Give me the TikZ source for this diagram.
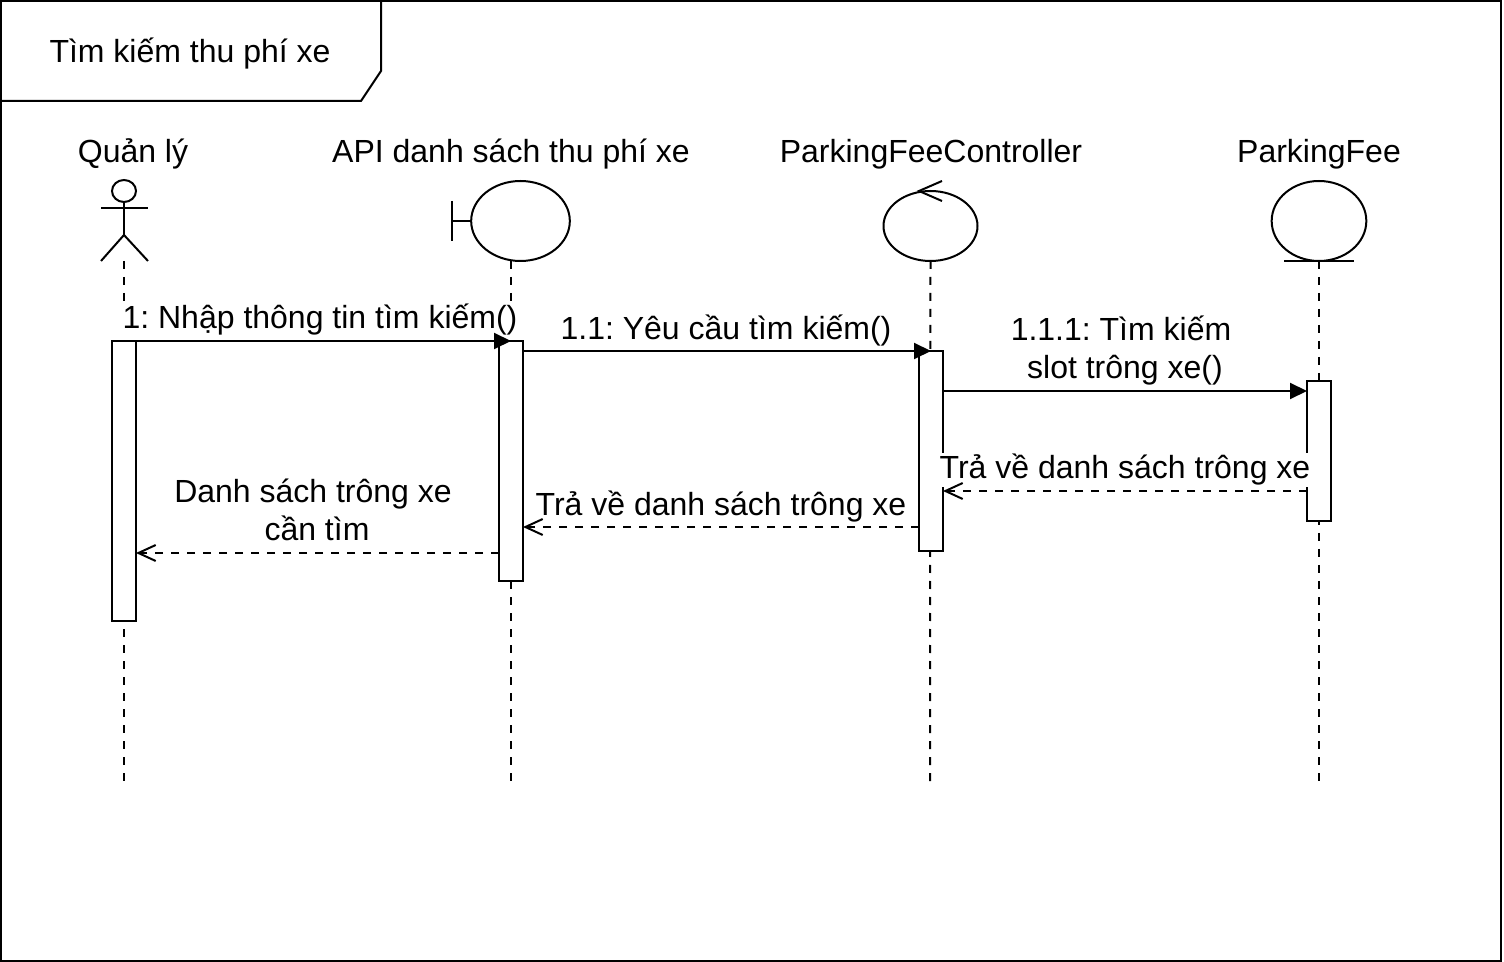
\documentclass[tikz,border=0pt]{standalone}
\usepackage{fontspec}
\setmainfont{Liberation Sans}
\usetikzlibrary{arrows.meta,shapes.geometric}
\tikzset{
  lbl/.style={font=\fontsize{24}{28.5}\selectfont\frenchspacing,text=black,align=center,inner sep=0pt},
  msglbl/.style={lbl,fill=white,inner xsep=1pt,inner ysep=1pt},
  act/.style={draw,fill=white,minimum width=18pt,outer sep=0pt,inner sep=0pt},
  oval/.style={draw,ellipse,fill=white,outer sep=0pt,inner sep=0pt},
  life/.style={dash pattern=on 6pt off 6pt},
  call/.style={-{Triangle[length=12.75pt,width=12pt]}},
  ret/.style={dash pattern=on 6pt off 6pt,-{Straight Barb[length=13pt,width=12pt]}},
}
\begin{document}
\begin{tikzpicture}[x=0.75pt,y=-0.75pt,line width=1.5pt,line join=miter]
\useasboundingbox (0,0) rectangle (1504,962);
% frame
\node[draw,rectangle,anchor=north west,outer sep=0pt,inner sep=0pt,minimum width=1125pt,minimum height=720pt] (frame) at (1,1) {};
\draw (1,1) -- (381,1) -- (381,71) -- (361,101) -- (1,101);
\node[lbl] (title) at (190,54) {Tìm kiếm thu phí xe};
% heads
\node[lbl] (t1) at (133,154) {Quản lý};
\node[lbl] (t2) at (511,154) {API danh sách thu phí xe};
\node[lbl] (t3) at (931,154) {ParkingFeeController};
\node[lbl] (t4) at (1319,154) {ParkingFee};
% bottom end coordinates
\coordinate (e1) at (124,781);
\coordinate (e2) at (511,781);
\coordinate (e3) at (930,781);
\coordinate (e4) at (1319,781);
% actor
\node[oval,minimum width=18pt,minimum height=16.5pt] (head) at (124,191) {};
\coordinate (hip) at (124,235);
\coordinate (footl) at (101,261);
\coordinate (footr) at (148,261);
\coordinate (arml) at (101,208);
\coordinate (armr) at (148,208);
\draw (head.south) -- (hip);
\draw (arml) -- (armr);
\draw (footl) -- (hip) -- (footr);
% boundary
\node[oval,minimum width=74pt,minimum height=60pt] (bnd) at (520.5,221) {};
\coordinate (bt) at (452,201);
\coordinate (bb) at (452,241);
\draw (bt) -- (bb);
\draw (452,221) -- (bnd.west);
% control
\node[oval,minimum width=70.5pt,minimum height=52.5pt] (ctl) at (930.5,226) {};
\coordinate (ca) at (942,181);
\coordinate (cb) at (942,201);
\draw (ca) -- (919,191) -- (cb);
% entity
\node[oval,minimum width=71pt,minimum height=60pt] (ent) at (1319,221) {};
\coordinate (ea) at (1284,261);
\coordinate (eb) at (1354,261);
\draw (ea) -- (eb);
% lifelines
\draw[life] (124,261) -- (e1);
\draw[life] (511,261) -- (e2);
\draw[life] (ctl.south) -- (e3);
\draw[life] (ent.south) -- (e4);
% activations
\node[act,minimum height=210pt] (a1) at (124,481) {};
\node[act,minimum height=180pt] (a2) at (511,461) {};
\node[act,minimum height=150pt] (a3) at (931,451) {};
\node[act,minimum height=105pt] (a4) at (1319,451) {};
% y levels
\coordinate (y1) at (0,341);
\coordinate (y2) at (0,351);
\coordinate (y3) at (0,391);
\coordinate (y4) at (0,491);
\coordinate (y5) at (0,527);
\coordinate (y6) at (0,553);
% labels over lines
\node[msglbl] (l1) at (320,320) {1: Nhập thông tin tìm kiếm()};
\node[msglbl] (l2) at (726,331) {1.1: Yêu cầu tìm kiếm()};
\node[msglbl] (l3) at (1121,351) {1.1.1: Tìm kiếm\\\hspace*{6pt}slot trông xe()};
\node[msglbl] (l4) at (1125,470) {Trả về danh sách trông xe};
\node[msglbl] (l5) at (721,507) {Trả về danh sách trông xe};
\node[msglbl] (l6) at (313,510) {Danh sách trông xe\\\hspace*{6pt}cần tìm};
% messages
\draw[call] (a1.north east) -- (a2.north);
\draw[call] (a2.east |- y2) -- (a3.north);
\draw[call] (a3.east |- y3) -- (a4.west |- y3);
\draw[ret] (a4.west |- y4) -- (a3.east |- y4);
\draw[ret] (a3.west |- y5) -- (a2.east |- y5);
\draw[ret] (a2.west |- y6) -- (a1.east |- y6);
\end{tikzpicture}
\end{document}
